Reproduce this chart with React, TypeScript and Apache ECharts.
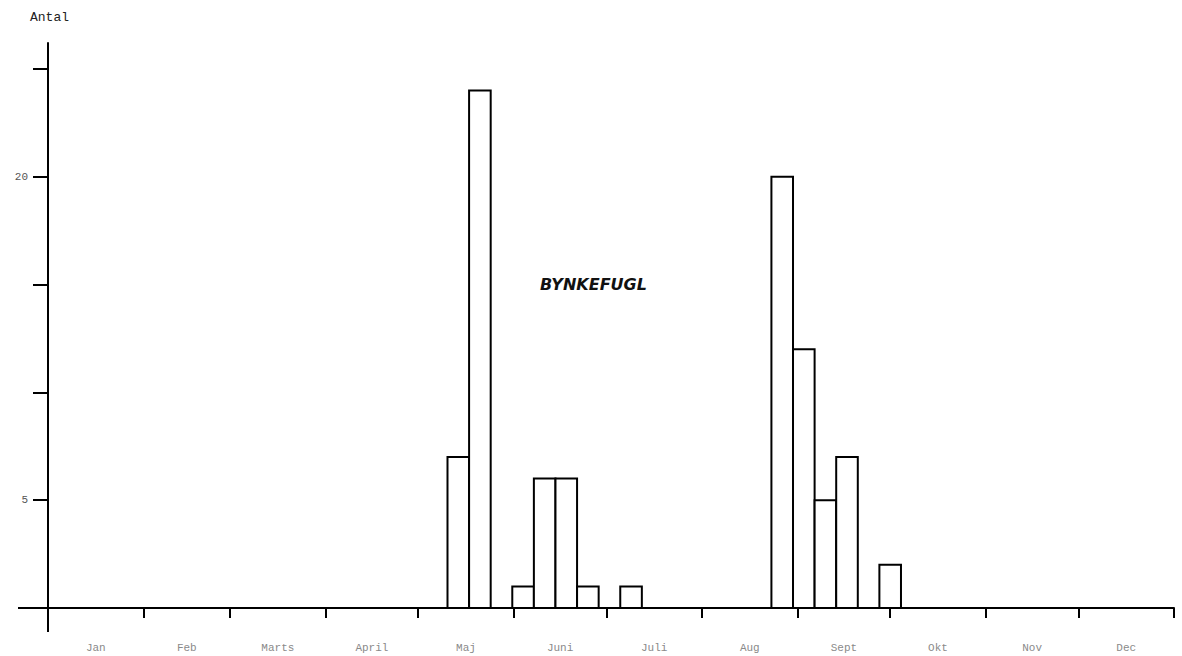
import React, { useEffect, useRef } from "react";
import * as echarts from "echarts";

// Weekly counts (week number of the year)
const weeks = [19, 20, 22, 23, 24, 25, 27, 34, 35, 36, 37, 39];
const counts = [7, 24, 1, 6, 6, 1, 1, 20, 12, 5, 7, 2];

// Month names and lengths (x axis in days of the year)
const months = ["Jan", "Feb", "Marts", "April", "Maj", "Juni", "Juli", "Aug", "Sept", "Okt", "Nov", "Dec"];
const monthDays = [31, 28, 31, 30, 31, 30, 31, 31, 30, 31, 30, 31];

// Y tick values and labelled values
const yTicks = [0, 5, 10, 15, 20, 25];
const yLabels = [5, 20];

const title = "BYNKEFUGL";
const yName = "Antal";

const WEEK_OFFSET = 3.5; // day offset of week 1 start

export default function App() {
  const ref = useRef<HTMLDivElement>(null);
  useEffect(() => {
    if (!ref.current) return;
    const chart = echarts.init(ref.current, null, { renderer: "svg" });

    const bounds: number[] = [0];
    monthDays.forEach((d) => bounds.push(bounds[bounds.length - 1] + d));
    const mids = months.map((_, i) => (bounds[i] + bounds[i + 1]) / 2);

    const data = weeks.map((w, i) => [(w - 1) * 7 + WEEK_OFFSET, counts[i]]);

    const mono = "'Liberation Mono', 'DejaVu Sans Mono', monospace";

    chart.setOption({
      animation: false,
      backgroundColor: "#ffffff",
      grid: { left: 48, right: 8, top: 43, bottom: 48 },
      xAxis: {
        type: "value",
        min: 0,
        max: 365,
        splitLine: { show: false },
        axisLine: { show: true, lineStyle: { color: "#000", width: 2 } },
        axisTick: {
          show: true,
          customValues: bounds,
          length: 10,
          lineStyle: { color: "#000", width: 2 },
        },
        axisLabel: {
          show: true,
          customValues: mids,
          margin: 34,
          color: "#8a8a8a",
          fontFamily: mono,
          fontSize: 11,
          formatter: (v: number) => {
            let idx = 0;
            let best = Infinity;
            mids.forEach((m, i) => {
              if (Math.abs(m - v) < best) {
                best = Math.abs(m - v);
                idx = i;
              }
            });
            return months[idx];
          },
        },
      },
      yAxis: {
        type: "value",
        min: 0,
        max: 26.2,
        splitLine: { show: false },
        axisLine: { show: true, lineStyle: { color: "#000", width: 2 } },
        axisTick: {
          show: true,
          customValues: yTicks,
          length: 15,
          lineStyle: { color: "#000", width: 2 },
        },
        axisLabel: {
          show: true,
          customValues: yLabels,
          margin: 20,
          color: "#555",
          fontFamily: mono,
          fontSize: 11,
        },
      },
      graphic: [
        {
          type: "text",
          left: 30,
          top: 11,
          style: { text: yName, fill: "#222", font: `13px ${mono}` },
        },
        {
          type: "text",
          left: 540,
          top: 276,
          style: {
            text: title,
            fill: "#111",
            font: "italic bold 16px 'DejaVu Sans', sans-serif",
          },
        },
        {
          type: "line",
          shape: { x1: 48, y1: 608, x2: 48, y2: 632 },
          style: { stroke: "#000", lineWidth: 2 },
        },
        {
          type: "line",
          shape: { x1: 18, y1: 608, x2: 48, y2: 608 },
          style: { stroke: "#000", lineWidth: 2 },
        },
      ],
      series: [
        {
          type: "custom",
          data,
          renderItem: (params: any, api: any) => {
            const start = api.value(0);
            const val = api.value(1);
            const p0 = api.coord([start, 0]);
            const p1 = api.coord([start + 7, val]);
            return {
              type: "rect",
              shape: {
                x: p0[0],
                y: p1[1],
                width: p1[0] - p0[0],
                height: p0[1] - p1[1],
              },
              style: { fill: "#fff", stroke: "#000", lineWidth: 2 },
            };
          },
        },
      ],
    });
    return () => chart.dispose();
  }, []);
  return (
    <div
      ref={ref}
      style={{ position: "fixed", left: 0, top: 0, width: 1182, height: 656 }}
    />
  );
}
